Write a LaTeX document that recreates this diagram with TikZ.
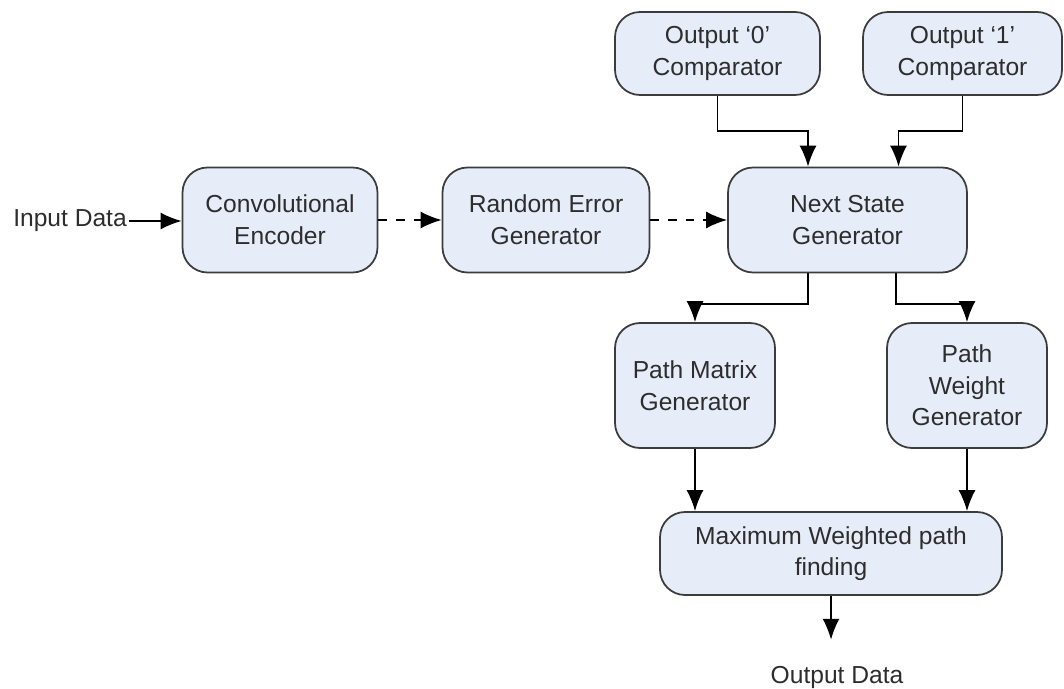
\documentclass[tikz,border=0pt]{standalone}
\usepackage{fontspec}
\setmainfont{Liberation Sans}
\usepackage{tikz}
\usetikzlibrary{arrows.meta, positioning}
\definecolor{blockfill}{RGB}{230,236,248}
\definecolor{blockline}{RGB}{60,60,60}
\definecolor{labeltext}{RGB}{45,45,45}
\tikzset{
		block/.style={draw=blockline, fill=blockfill, rounded corners=0.5cm, line width=1pt,
			align=center, text=labeltext, font=\fontsize{14}{18}\selectfont, inner sep=0pt},
		plain text/.style={text=labeltext, font=\fontsize{14}{18}\selectfont, inner sep=1pt},
		link/.style={-{Latex[length=0.42cm,width=0.34cm]}, draw=black, line width=1pt},
		dash link/.style={link, dash pattern=on 5pt off 5pt}
	}
\begin{document}
\begin{tikzpicture}[x=0.02cm, y=-0.02cm]
		\useasboundingbox (0,0) rectangle (1064,689);

		\node[plain text]                                            (indata)  at (70,221)    {Input Data};
		\node[block, minimum width=3.9cm,  minimum height=2.1cm]     (conv)    at (280,220)   {Convolutional\\Encoder};
		\node[block, minimum width=4.14cm, minimum height=2.1cm]     (rnd)     at (546,220)   {Random Error\\Generator};
		\node[block, minimum width=4.78cm, minimum height=2.1cm]     (next)    at (847.5,220) {Next State\\Generator};
		\node[block, minimum width=4.1cm,  minimum height=1.66cm]    (cmp0)    at (717.5,53.5) {Output `0'\\Comparator};
		\node[block, minimum width=3.98cm, minimum height=1.66cm]    (cmp1)    at (962.5,53.5) {Output `1'\\Comparator};
		\node[block, minimum width=3.2cm,  minimum height=2.5cm]     (pmat)    at (695,385.5) {Path Matrix\\Generator};
		\node[block, minimum width=3.2cm,  minimum height=2.5cm]     (pwgt)    at (967,385.5) {Path\\Weight\\Generator};
		\node[block, minimum width=6.84cm, minimum height=1.66cm]    (maxpath) at (831,553.5) {Maximum Weighted path\\finding};
		\node[plain text]                                            (outdata) at (837,677)   {Output Data};

		\draw[link]      (indata.east) -- (indata.east -| conv.west);
		\draw[dash link] (conv.east)   -- (rnd.west);
		\draw[dash link] (rnd.east)    -- (next.west);

		\draw[link] (cmp0.south) -- ++(0,35) -| ([xshift=-0.79cm]next.north);
		\draw[link] (cmp1.south) -- ++(0,35) -| ([xshift=1.02cm]next.north);

		\draw[link] ([xshift=-0.79cm]next.south) -- ++(0,31) -| (pmat.north);
		\draw[link] ([xshift=0.97cm]next.south)  -- ++(0,31) -| (pwgt.north);

		\draw[link] (pmat.south) -- (pmat.south |- maxpath.north);
		\draw[link] (pwgt.south) -- (pwgt.south |- maxpath.north);
		\draw[link] (maxpath.south) -- ([yshift=0.48cm]outdata.north -| maxpath.south);

	\end{tikzpicture}
\end{document}
